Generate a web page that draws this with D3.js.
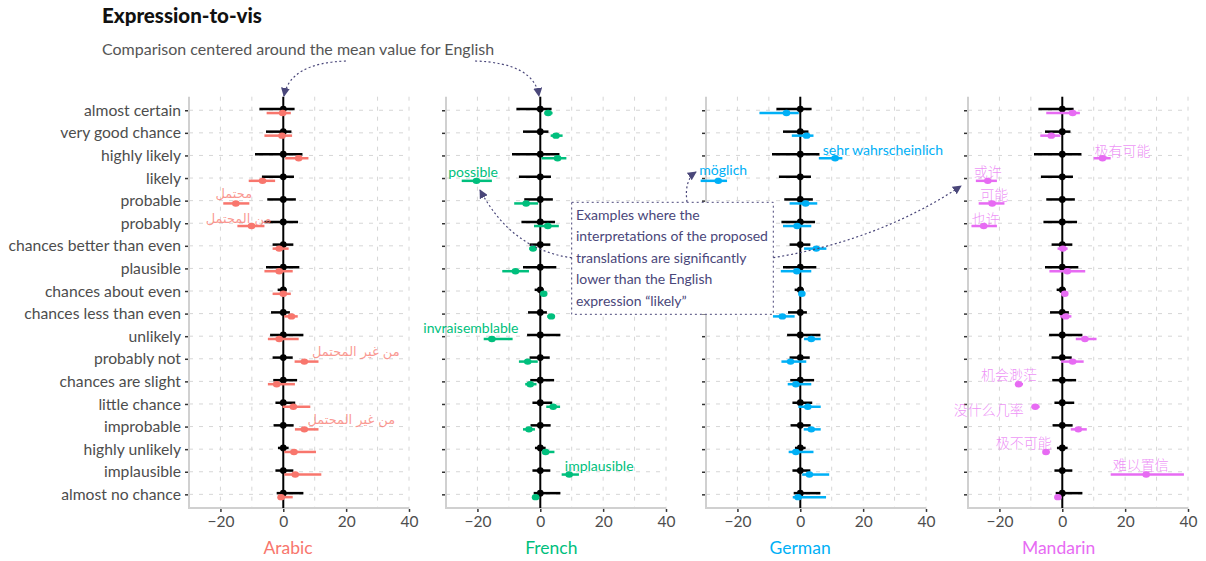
<!DOCTYPE html>
<html>
<head>
<meta charset="utf-8">
<script src="https://cdn.jsdelivr.net/npm/d3@7"></script>
<style>
  body { margin: 0; background: #fff; }
  svg { display: block; font-family: "Lato", "Noto Sans", sans-serif; }
</style>
</head>
<body>
<svg id="chart" width="1206" height="561"></svg>
<script>
// ---- data -------------------------------------------------------------
const expressions = [
  "almost certain", "very good chance", "highly likely", "likely", "probable",
  "probably", "chances better than even", "plausible", "chances about even",
  "chances less than even", "unlikely", "probably not", "chances are slight",
  "little chance", "improbable", "highly unlikely", "implausible", "almost no chance"
];

// English interval around its own mean (mean is 0 after centering)
const englishLow  = [-7.6, -5.5, -9.0, -6.8, -5.1, -6.0, -3.4, -5.5, -1.8, -3.9, -4.2, -3.4, -3.2, -2.5, -3.1, -1.7, -2.5, -2.1];
const englishHigh = [ 3.6,  2.6,  6.1,  3.4,  4.0,  4.7,  3.2,  5.1,  1.1,  2.1,  6.4,  3.0,  4.4,  3.8,  3.3,  1.7,  3.2,  6.4];

const languages = ["Arabic", "French", "German", "Mandarin"];
const languageColors = ["#F8766D", "#00BF7D", "#00B0F6", "#E76BF3"];

const arabicMean = [-0.2, -0.4, 4.9, -6.6, -15.1, -10.1, -1.3, -1.3, 0.0, 2.6, -1.3, 6.7, -2.1, 3.2, 6.7, 3.4, 3.8, -0.7];
const arabicLow  = [-5.3, -6.0, 0.6, -11.0, -19.1, -14.6, -3.4, -6.0, -3.4, 0.3, -4.9, 3.6, -4.9, -0.2, 3.7, 0.3, 0.3, -1.7];
const arabicHigh = [ 2.4,  2.8, 8.0, -2.6, -10.8, -6.0, 1.7, 3.0, 2.4, 4.6, 4.9, 11.2, 3.7, 8.6, 11.2, 10.4, 12.1, 3.0];

const frenchMean = [2.5, 5.0, 5.5, -20.3, -4.5, 2.4, -2.3, -7.9, 1.1, 3.5, -15.4, -4.0, -3.2, 4.1, -3.6, 1.7, 9.2, -1.5];
const frenchLow  = [1.3, 3.3, 0.4, -25.0, -8.3, -2.0, -3.5, -12.1, 0.5, 2.2, -18.0, -6.8, -4.8, 1.9, -5.5, 0.6, 6.8, -2.2];
const frenchHigh = [3.9, 7.1, 8.3, -15.4, -0.7, 5.9, -1.2, -3.6, 1.8, 4.7, -8.8, -0.8, -1.2, 6.3, -1.7, 4.5, 12.3, -0.7];

const germanMean = [-4.4, 2.0, 11.1, -26.1, 1.7, -1.0, 5.1, -1.1, 0.5, -5.7, 3.5, -3.1, -1.4, 2.4, 3.5, -1.4, 2.9, -0.7];
const germanLow  = [-13.0, -2.7, 5.9, -31.7, -3.4, -5.5, 1.2, -6.2, 0.2, -8.7, 1.2, -6.0, -4.0, -0.6, 1.1, -3.7, 0.6, -2.4];
const germanHigh = [-0.5, 4.2, 13.4, -23.3, 5.4, 3.5, 8.3, 3.5, 1.0, -1.8, 6.5, 1.9, 3.5, 6.5, 6.5, 4.2, 9.2, 8.2];

const mandarinMean = [3.3, -3.5, 12.8, -23.7, -22.3, -25.0, 0.2, 1.6, 0.8, 1.1, 7.2, 3.3, -13.9, -8.6, 5.1, -5.2, 26.7, -1.4];
const mandarinLow  = [-5.1, -7.0, 10.0, -27.5, -26.6, -28.9, -1.5, -4.1, 0.2, -0.7, 4.3, -0.4, -14.8, -9.8, 2.7, -6.0, 15.4, -2.0];
const mandarinHigh = [5.6, -0.6, 15.4, -20.8, -18.4, -20.8, 1.7, 7.3, 1.5, 2.9, 10.9, 6.8, -12.5, -7.2, 7.8, -4.0, 38.7, -0.6];

const seriesMean = [arabicMean, frenchMean, germanMean, mandarinMean];
const seriesLow  = [arabicLow, frenchLow, germanLow, mandarinLow];
const seriesHigh = [arabicHigh, frenchHigh, germanHigh, mandarinHigh];

// translated expressions shown next to their estimates: [language, expression, text]
const translationLabels = [
  ["Arabic", "probable", "محتمل"],
  ["Arabic", "probably", "من المحتمل"],
  ["Arabic", "probably not", "من غير المحتمل"],
  ["Arabic", "improbable", "من غير المحتمل"],
  ["French", "likely", "possible"],
  ["French", "unlikely", "invraisemblable"],
  ["French", "implausible", "implausible"],
  ["German", "highly likely", "sehr wahrscheinlich"],
  ["German", "likely", "möglich"],
  ["Mandarin", "highly likely", "极有可能"],
  ["Mandarin", "likely", "或许"],
  ["Mandarin", "probable", "可能"],
  ["Mandarin", "probably", "也许"],
  ["Mandarin", "chances are slight", "机会渺茫"],
  ["Mandarin", "little chance", "没什么几率"],
  ["Mandarin", "highly unlikely", "极不可能"],
  ["Mandarin", "implausible", "难以置信"]
];
// label offsets (px) from their point, in the same order
const labelNudge = [
  [-2, -10], [-13, -7.5], [51.5, -10], [47, -10],
  [-3.4, -9], [-21, -11], [30, -9],
  [47.7, -9], [5, -11.5],
  [20, -8.5], [0, -9.5], [2, -9], [2, -8], [-9.7, -10], [-46.5, 2], [-22.3, -10], [-5.5, -11]
];

const xTicks = [-20, 0, 20, 40];
const gridTicks = [-20, -10, 0, 10, 20, 30, 40];

const noteLines = [
  "Examples where the",
  "interpretations of the proposed",
  "translations are significantly",
  "lower than the English",
  "expression \u201Clikely\u201D"
];

// ---- layout -----------------------------------------------------------
const svg = d3.select("#chart");
const panelLeft = [189, 446, 706, 968];
const panelWidth = 220;
const plotTop = 96.7, plotBottom = 507.9;
const titleShift = [4.7, 11, -0.2, -3.7];
const inkNote = "#4A477A";
const gridColor = "#d6d6d6";
const axisGrey = "#d0d0d0";
const textGrey = "#4d4d4d";
const baseFont = "Lato, 'Noto Sans', sans-serif";

const x = d3.scaleLinear().domain([-30, 40]).range([0, panelWidth]);
const y = d3.scalePoint().domain(expressions).range([plotTop, plotBottom]).padding(0.6);
const englishShift = -1.2, langShift = 2.8;

const defs = svg.append("defs");
defs.append("marker")
  .attr("id", "head")
  .attr("viewBox", "0 0 10 10")
  .attr("refX", 9).attr("refY", 5)
  .attr("markerWidth", 9).attr("markerHeight", 9)
  .attr("markerUnits", "userSpaceOnUse")
  .attr("orient", "auto")
  .append("path").attr("d", "M0,0 L10,5 L0,10 Z").attr("fill", inkNote);

// titles
svg.append("text").attr("x", 102).attr("y", 23)
  .attr("font-size", 20.5).attr("font-weight", 900).attr("fill", "#111")
  .text("Expression-to-vis");
svg.append("text").attr("x", 102).attr("y", 55)
  .attr("font-size", 16).attr("fill", "#555")
  .text("Comparison centered around the mean value for English");

languages.forEach((lang, li) => {
  const g = svg.append("g").attr("transform", `translate(${panelLeft[li]},0)`);
  const color = languageColors[li];

  // grid
  g.append("g").selectAll("line").data(gridTicks).join("line")
    .attr("x1", d => x(d)).attr("x2", d => x(d))
    .attr("y1", plotTop).attr("y2", plotBottom)
    .attr("stroke", gridColor).attr("stroke-width", 1).attr("stroke-dasharray", "4,6");
  g.append("g").selectAll("line").data(expressions).join("line")
    .attr("x1", x(-30)).attr("x2", x(40))
    .attr("y1", d => y(d)).attr("y2", d => y(d))
    .attr("stroke", gridColor).attr("stroke-width", 1).attr("stroke-dasharray", "4,6");

  // axis lines
  g.append("line").attr("x1", x(-30)).attr("x2", x(-30)).attr("y1", plotTop).attr("y2", plotBottom)
    .attr("stroke", axisGrey).attr("stroke-width", 2);
  g.append("line").attr("x1", x(-30) - 1).attr("x2", x(40)).attr("y1", plotBottom).attr("y2", plotBottom)
    .attr("stroke", axisGrey).attr("stroke-width", 2);

  // y axis ticks (labels on the first panel only)
  const yAxis = d3.axisLeft(y).tickSize(3).tickPadding(4);
  if (li > 0) yAxis.tickFormat("");
  const ya = g.append("g").attr("transform", `translate(${x(-30) - 1},0)`).call(yAxis);
  ya.select(".domain").remove();
  ya.selectAll(".tick line").attr("stroke", "#333").attr("stroke-width", 1.5);
  ya.selectAll(".tick text").attr("fill", textGrey).attr("font-size", 15.7)
    .attr("font-family", baseFont);

  // x axis
  const xAxis = d3.axisBottom(x).tickValues(xTicks).tickSize(3).tickPadding(4)
    .tickFormat(d => d < 0 ? "\u2212" + Math.abs(d) : String(d));
  const xa = g.append("g").attr("transform", `translate(0,${plotBottom + 1})`).call(xAxis);
  xa.select(".domain").remove();
  xa.selectAll(".tick line").attr("stroke", "#333").attr("stroke-width", 1.5);
  xa.selectAll(".tick text").attr("fill", textGrey).attr("font-size", 15.5)
    .attr("font-family", baseFont);

  // panel title
  g.append("text").attr("x", x(0) + titleShift[li]).attr("y", 547)
    .attr("text-anchor", "middle").attr("dominant-baseline", "central")
    .attr("font-size", 17.5).attr("fill", color).text(lang);

  // zero reference
  g.append("line").attr("x1", x(0)).attr("x2", x(0)).attr("y1", plotTop).attr("y2", plotBottom)
    .attr("stroke", "#000").attr("stroke-width", 2);

  // English intervals
  g.append("g").selectAll("line").data(expressions).join("line")
    .attr("x1", (d, i) => x(englishLow[i])).attr("x2", (d, i) => x(englishHigh[i]))
    .attr("y1", d => y(d) + englishShift).attr("y2", d => y(d) + englishShift)
    .attr("stroke", "#000").attr("stroke-width", 2.5);
  g.append("g").selectAll("circle").data(expressions).join("circle")
    .attr("cx", x(0)).attr("cy", d => y(d) + englishShift).attr("r", 3.4).attr("fill", "#000");

  // translated expression intervals
  const mean = seriesMean[li], low = seriesLow[li], high = seriesHigh[li];
  g.append("g").selectAll("line").data(expressions).join("line")
    .attr("x1", (d, i) => x(low[i])).attr("x2", (d, i) => x(high[i]))
    .attr("y1", d => y(d) + langShift).attr("y2", d => y(d) + langShift)
    .attr("stroke", color).attr("stroke-width", 2.5);
  g.append("g").selectAll("ellipse").data(expressions).join("ellipse")
    .attr("cx", (d, i) => x(mean[i])).attr("cy", d => y(d) + langShift)
    .attr("rx", 3.8).attr("ry", 3.2).attr("fill", color);

  // labels
  translationLabels.forEach((lab, k) => {
    if (lab[0] !== lang) return;
    const idx = expressions.indexOf(lab[1]);
    const cjk = lang === "Mandarin", arabic = lang === "Arabic";
    g.append("text")
      .attr("x", x(mean[idx]) + labelNudge[k][0])
      .attr("y", y(lab[1]) + langShift + labelNudge[k][1])
      .attr("text-anchor", "middle").attr("dominant-baseline", "central")
      .attr("font-size", cjk ? 14 : (arabic ? 13 : 14))
      .attr("font-family", cjk ? "'Noto Sans CJK SC', sans-serif" : (arabic ? "'DejaVu Sans', sans-serif" : baseFont))
      .attr("font-weight", cjk ? 300 : 400)
      .attr("fill", color)
      .attr("fill-opacity", (cjk || arabic) ? 0.75 : 1)
      .text(lab[2]);
  });
});

// ---- annotations ------------------------------------------------------
const note = svg.append("g");
note.append("rect").attr("x", 571.7).attr("y", 202.3).attr("width", 201.6).attr("height", 112)
  .attr("fill", "#fff").attr("stroke", inkNote).attr("stroke-width", 1)
  .attr("stroke-dasharray", "2,3");
note.selectAll("text").data(noteLines).join("text")
  .attr("x", 576).attr("y", (d, i) => 214 + i * 21.6)
  .attr("dominant-baseline", "central")
  .attr("font-size", 14).attr("fill", inkNote).text(d => d);

const arrows = [
  "M571.7,257.7 Q512,250 480,190",
  "M687,202 Q684,180 696,172",
  "M773.3,257.7 Q880,240 961,186",
  "M346,61 Q290,63 284,96",
  "M475,61 Q534,63 539,96"
];
svg.append("g").selectAll("path").data(arrows).join("path")
  .attr("d", d => d).attr("fill", "none")
  .attr("stroke", inkNote).attr("stroke-width", 1.2).attr("stroke-dasharray", "2,2.5")
  .attr("marker-end", "url(#head)");
</script>
</body>
</html>
